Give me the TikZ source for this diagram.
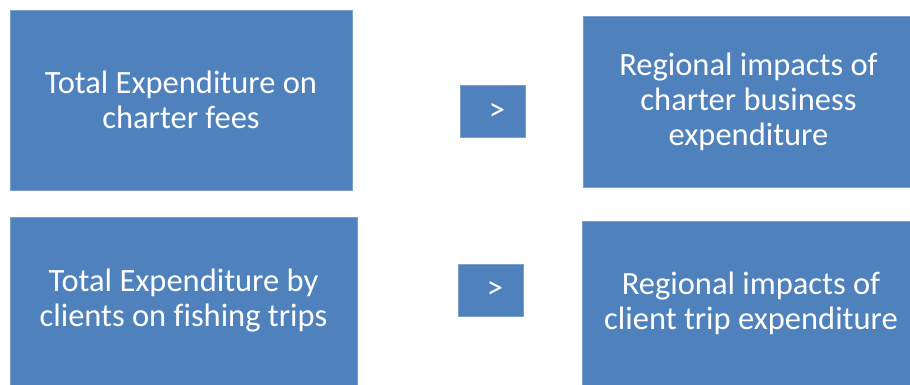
\documentclass[tikz,border=0pt]{standalone}
\usepackage{fontspec}
\setmainfont{Carlito}[Ligatures=NoCommon]
\definecolor{boxblue}{HTML}{4F81BD}
\begin{document}
\begin{tikzpicture}[x=1pt, y=-1pt]
\tikzstyle{stage}=[draw=boxblue!75!white, line width=0.6pt, fill=boxblue, text=white, align=center, inner sep=0pt, font=\fontsize{32.5}{35}\selectfont]
\tikzstyle{gt}=[stage, minimum width=65pt, minimum height=52pt]
\useasboundingbox (0,0) rectangle (910,385);
\node[stage, minimum width=342pt, minimum height=180pt] (fees) at (181,100) {Total Expenditure on\\charter fees};
\node[gt] (gtfees) at (492.5,111.5) {\;>};
\node[stage, minimum width=327pt, minimum height=171pt] (business) at (746.5,101.5) {\hspace*{4pt}Regional impacts of\\\hspace*{4pt}charter business\\\hspace*{4pt}expenditure};
\node[stage, minimum width=347pt, minimum height=168pt] (clients) at (183.5,301) {Total Expenditure by\\clients on fishing trips};
\node[gt] (gtclients) at (490.5,290) {\;>};
\node[stage, minimum width=328pt, minimum height=164pt] (trips) at (746,303) {\hspace*{10pt}Regional impacts of\\\hspace*{10pt}client trip expenditure};
\end{tikzpicture}
\end{document}
